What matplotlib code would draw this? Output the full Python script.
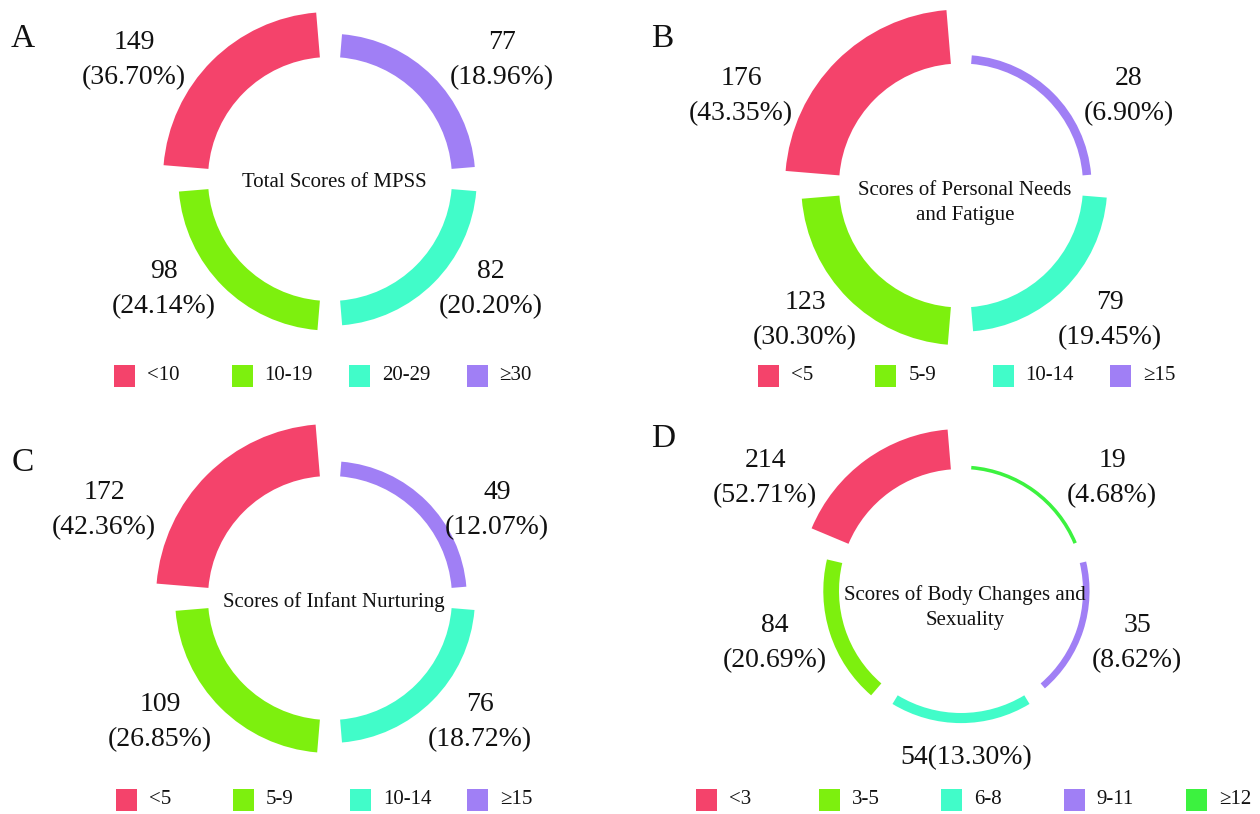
import matplotlib
matplotlib.use('Agg')
import matplotlib.pyplot as plt
from matplotlib.patches import Wedge, Rectangle

plt.rcParams['font.family'] = ['Liberation Serif', 'DejaVu Serif']

# score groups, number of mothers in each group and the reported shares
cats_a = ['<10', '10-19', '20-29', '≥30']
vals_a = [149, 98, 82, 77]
pcts_a = ['36.70', '24.14', '20.20', '18.96']
cats_b = ['<5', '5-9', '10-14', '≥15']
vals_b = [176, 123, 79, 28]
pcts_b = ['43.35', '30.30', '19.45', '6.90']
cats_c = ['<5', '5-9', '10-14', '≥15']
vals_c = [172, 109, 76, 49]
pcts_c = ['42.36', '26.85', '18.72', '12.07']
cats_d = ['<3', '3-5', '6-8', '9-11', '≥12']
vals_d = [214, 84, 54, 35, 19]
pcts_d = ['52.71', '20.69', '13.30', '8.62', '4.68']

titles = ['Total Scores of MPSS',
          'Scores of Personal Needs\nand Fatigue',
          'Scores of Infant Nurturing',
          'Scores of Body Changes and\nSexuality']
letters = ['A', 'B', 'C', 'D']
colors = ['#f4436b', '#7df00e', '#41fcc9', '#a07ff5', '#3cf23f']

# layout of each panel, in pixels inside its quarter of the figure
W, H = 630, 407
R0 = 122      # inner radius
GAP = 9.5     # degrees between sectors
layout = [
    dict(cell=(0, 0), center=(330, 179), band=45,
         labels=[(134, 60), (164, 289), (491, 289), (502, 60)],
         seps=['\n'] * 4, leg=(114, 117.5, 376), letter=(23, 39), title_y=173),
    dict(cell=(1, 0), center=(331, 185.5), band=54,
         labels=[(111, 96), (175, 320), (480, 320), (499, 96)],
         seps=['\n'] * 4, leg=(128, 117.3, 376), letter=(32, 39), title_y=181),
    dict(cell=(0, 1), center=(330, 191), band=52,
         labels=[(104, 103), (160, 315), (480, 315), (497, 103)],
         seps=['\n'] * 4, leg=(116, 117, 393), letter=(23, 56), title_y=185),
    dict(cell=(1, 1), center=(331, 184), band=40,
         labels=[(135, 71), (145, 236), (336, 351), (507, 236), (482, 71)],
         seps=['\n', '\n', '', '\n', '\n'], leg=(66, 122.5, 393), letter=(33, 32), title_y=178),
]
data = [(cats_a, vals_a, pcts_a), (cats_b, vals_b, pcts_b),
        (cats_c, vals_c, pcts_c), (cats_d, vals_d, pcts_d)]

fig = plt.figure(figsize=(12.6, 8.14), dpi=100)

for k, ((cats, vals, pcts), lay) in enumerate(zip(data, layout)):
    col, row = lay['cell']
    ax = fig.add_axes([col * 0.5, 0.5 - row * 0.5, 0.5, 0.5])
    ax.set_xlim(0, W)
    ax.set_ylim(H, 0)
    ax.axis('off')

    cx, cy = lay['center']
    n = len(vals)
    step = 360 / n
    vmax = max(vals)
    for i, v in enumerate(vals):
        a1 = 90 + i * step + GAP / 2
        a2 = 90 + (i + 1) * step - GAP / 2
        w = lay['band'] * v / vmax
        # y axis is flipped, so screen angles are negated
        ax.add_patch(Wedge((cx, cy), R0 + w, -a2, -a1, width=w,
                           facecolor=colors[i], edgecolor='none'))
        lx, ly = lay['labels'][i]
        ax.text(lx, ly, f'{v}{lay["seps"][i]}({pcts[i]}%)',
                ha='center', va='center', fontsize=20, linespacing=1.5,
                color='#111111')

    ax.text(cx + 4, lay['title_y'], titles[k], ha='center', va='top',
            fontsize=15, linespacing=1.45, color='#111111')
    ax.text(*lay['letter'], letters[k], ha='center', va='center',
            fontsize=24, color='#111111')

    # legend row
    x0, dx, ly = lay['leg']
    for i, c in enumerate(cats):
        sx = x0 + i * dx
        ax.add_patch(Rectangle((sx, ly - 11), 21, 22, facecolor=colors[i],
                               edgecolor='none'))
        ax.text(sx + 33, ly, c, ha='left', va='center', fontsize=15,
                color='#111111')

fig.savefig('out.png', dpi=100, facecolor='white')
